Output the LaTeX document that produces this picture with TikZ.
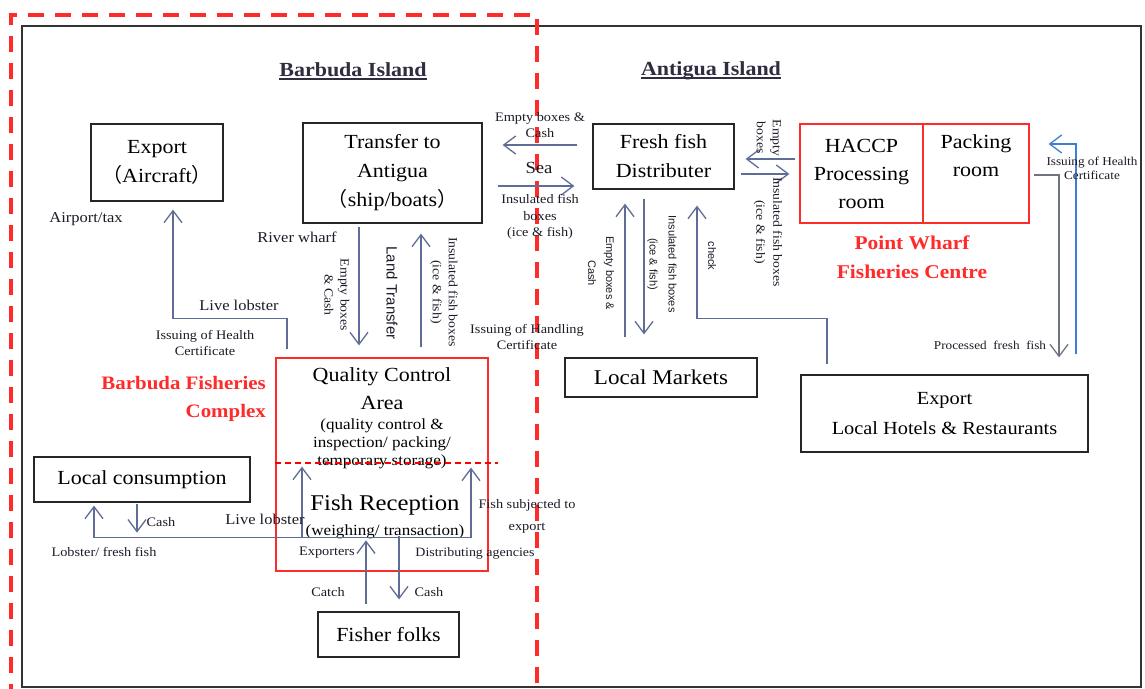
\documentclass[tikz,border=0pt]{standalone}
\usepackage{fontspec}
\setmainfont{Liberation Serif}[FakeStretch=1.1]
\newfontfamily\sansf{Liberation Sans}
\newfontfamily\cjk{Noto Sans CJK SC}
\usetikzlibrary{arrows.meta,calc}
\definecolor{conn}{HTML}{5E6C96}
\definecolor{conng}{HTML}{6E7484}
\definecolor{connb}{HTML}{3F7FD0}
\definecolor{redc}{HTML}{FF2A2A}
\definecolor{txt}{HTML}{1C1C28}
\definecolor{ttl}{HTML}{2E2E40}
\newcommand\myfs[2]{\fontsize{#1}{#2}\selectfont}
\tikzset{
  box/.style={draw=black!85, line width=1.2pt, inner sep=0pt, align=center, text=black, font=\myfs{20}{29}},
  rbox/.style={draw=redc, line width=1.2pt, inner sep=0pt, align=center, text=black, font=\myfs{20}{28}},
  lbl/.style={inner sep=0pt, align=center, text=txt, font=\myfs{13}{16}},
  mid/.style={inner sep=0pt, align=center, text=txt, font=\myfs{15}{18}},
  rot/.style={inner sep=0pt, align=center, text=txt, rotate=-90, font=\myfs{12.5}{16}},
  srot/.style={inner sep=0pt, align=center, text=txt, rotate=-90, font=\sansf\myfs{11}{18}},
  redlbl/.style={inner sep=0pt, text=redc, font=\bfseries\myfs{19}{28}},
  title/.style={inner sep=0pt, text=ttl, font=\bfseries\myfs{20}{24}},
  conn/.style={draw=conn, line width=1.3pt},
  arr/.style={conn, -{Straight Barb[length=12pt,width=18pt,line width=1.3pt]}},
  arrg/.style={arr, draw=conng},
  arrb/.style={arr, draw=connb},
}
\begin{document}
\begin{tikzpicture}[x=1pt,y=-1pt]
\useasboundingbox (0,0) rectangle (1145,688);
\fill[white] (0,0) rectangle (1145,688);
% outer frame
\draw[black!80, line width=1.2pt] (22,26) rectangle (1141,687);
% red dashed region
\draw[redc, line width=4pt, dash pattern=on 16pt off 11pt] (11,700) -- (11,15) -- (537,15) -- (537,700);

% titles
\node[title, anchor=base] (bt) at (353,76) {Barbuda Island};
\draw[ttl, line width=1.8pt] ([yshift=-3pt]bt.base west) -- ([yshift=-3pt]bt.base east);
\node[title, anchor=base] (at) at (711,75) {Antigua Island};
\draw[ttl, line width=1.8pt] ([yshift=-3pt]at.base west) -- ([yshift=-3pt]at.base east);

% boxes
\node[box, minimum width=132pt, minimum height=77pt] (exp) at (157,162.5) {Export\\{\cjk（}Aircraft{\cjk）}};
\node[box, minimum width=179pt, minimum height=100pt] (trans) at (392.5,173) {Transfer to\\Antigua\\{\cjk（}ship/boats{\cjk）}};
\node[box, minimum width=141pt, minimum height=65pt] (fresh) at (663.5,156.5) {Fresh fish\\Distributer};
\node[rbox, minimum width=123pt, minimum height=99pt] (haccp) at (861.5,173.5) {HACCP\\Processing\\room};
\node[rbox, minimum width=106pt, minimum height=99pt] (pack) at (976,173.5) {Packing\\room\\\strut};
\node[box, minimum width=192pt, minimum height=39pt, font=\myfs{21}{25}] (mkts) at (661,377.5) {Local Markets};
\node[box, minimum width=287pt, minimum height=77pt, font=\myfs{18.5}{30}] (hotels) at (944.5,413.5) {Export\\Local Hotels \& Restaurants};
\node[rbox, minimum width=212pt, minimum height=213pt] (qc) at (382,464.5) {};
\node[box, minimum width=216pt, minimum height=45pt] (cons) at (142,479.5) {Local consumption};
\node[box, minimum width=141pt, minimum height=45pt] (fisher) at (388.5,634.5) {Fisher folks};

% quality control area content
\node[inner sep=0pt, align=center, font=\myfs{20}{28}] (qct1) at (382,389) {Quality Control\\Area};
\node[inner sep=0pt, align=center, font=\myfs{15.5}{18}] (qct2) at (382,444) {(quality control \&\\inspection/ packing/\\temporary storage)};
\draw[red, line width=1.2pt, dash pattern=on 6pt off 4pt] (qc.west |- 0,463) -- (498,463);
\node[inner sep=0pt, font=\myfs{22.5}{26}] (fr) at (385,505) {Fish Reception};
\node[inner sep=0pt, font=\myfs{15.5}{18}] (fr2) at (385,532) {(weighing/ transaction)};

% red labels
\node[redlbl, align=right, anchor=east] (bfc) at (266,399) {Barbuda Fisheries\\Complex};
\node[redlbl, align=center, font=\bfseries\myfs{19.5}{29}] (pwf) at (912,257) {Point Wharf\\Fisheries Centre};

% --- connectors, Barbuda side
\draw[arr] ($(qc.north)+(-95,-8)$) |- ($(exp.south)+(16,117)$) -- ($(exp.south)+(16,8)$);
\draw[arr] ($(trans.south)+(-33.5,3)$) -- ($(qc.north)+(-23,-12)$);
\draw[arr] ($(qc.north)+(39,-10)$) -- ($(trans.south)+(28.5,10)$);

\node[mid] (l1) at (86,219) {Airport/tax};
\node[mid] (l2) at (239,305) {Live lobster};
\node[lbl] (l3) at (205,343) {Issuing of Health\\Certificate};
\node[mid] (l4) at (297,237) {River wharf};
\node[rot] (l5) at (337,295) {Empty boxes\\\& Cash};
\node[inner sep=0pt, rotate=-90, text=txt, font=\sansf\myfs{15}{18}] (l6) at (392,293) {Land Transfer};
\node[rot] (l7) at (444,292) {Insulated fish boxes\\(ice \& fish)};
\node[lbl, anchor=west] (l8) at (470,337) {Issuing of Handling\\Certificate};

% --- sea
\draw[arr] ($(fresh.west)+(-15,-11.5)$) -- ($(trans.east)+(20,-28)$);
\draw[arr] ($(trans.east)+(15,13)$) -- ($(fresh.west)+(-18,29.5)$);
\node[lbl] (l9) at (540,125) {Empty boxes \&\\Cash};
\node[inner sep=0pt, text=txt, font=\myfs{17}{20}] (l10) at (539,168) {Sea};
\node[lbl, font=\myfs{13}{16.5}] (l11) at (540,217) {Insulated fish\\boxes\\(ice \& fish)};

% --- fresh fish <-> HACCP
\draw[arr] ($(haccp.west)+(-4,-14.5)$) -- ($(fresh.east)+(11,2.5)$);
\draw[arr] ($(fresh.east)+(6,17.5)$) -- ($(haccp.west)+(-10,0.5)$);
\node[rot] (l12) at (769,138) {Empty\\boxes};
\node[rot, font=\myfs{12.5}{17}] (l13) at (768,232) {Insulated fish boxes\\(ice \& fish)};

% --- fresh fish <-> local markets
\draw[arr] ($(mkts.north)+(-36,-20)$) -- ($(fresh.south)+(-38.5,14)$);
\draw[arr] ($(fresh.south)+(-19.5,9)$) -- ($(mkts.north)+(-17,-23)$);
\node[srot] (l14) at (601,273) {Empty boxes \&\\Cash};
\node[srot, font=\sansf\myfs{11}{19}] (l15) at (662,264) {Insulated fish boxes\\(ice \& fish)};
\draw[arr] ($(hotels.north)+(-117.5,-10)$) |- ($(fresh.south)+(33.5,129)$) -- ($(fresh.south)+(33.5,16)$);
\node[srot] (l16) at (712,256) {check};

% --- packing room <-> hotels
\draw[arrg] ($(pack.east)+(4,1.5)$) -| ($(hotels.north)+(114.5,-17)$);
\draw[arrb] ($(hotels.north)+(131.5,-20)$) |- ($(pack.east)+(19,-29.5)$);
\node[lbl, font=\myfs{12}{14}] (l17) at (1092,168) {Issuing of Health\\Certificate};
\node[lbl, font=\myfs{12}{14}] (l18) at (990,345) {Processed\ \ fresh\ \ fish};

% --- bottom group
\draw[conn] ($(cons.south)+(-48,35)$) -- ($(qc.south)+(89,-34)$);
\draw[arr] ($(cons.south)+(-48,35)$) -- ($(cons.south)+(-48,3)$);
\draw[arr] ($(cons.south)+(-5,1)$) -- ($(cons.south)+(-5,30)$);
\draw[arr] ($(qc.south)+(-80,-34)$) -- ($(qc.south)+(-80,-105)$);
\draw[arr] ($(qc.south)+(89,-34)$) -- ($(qc.south)+(89,-104)$);
\draw[arr] ($(fisher.north)+(-22.5,-7)$) -- ($(fisher.north)+(-22.5,-71)$);
\draw[arr] ($(fisher.north)+(10.5,-75)$) -- ($(fisher.north)+(10.5,-12)$);

\node[lbl] (l19) at (161,522) {Cash};
\node[lbl] (l20) at (104,552) {Lobster/ fresh fish};
\node[mid] (l21) at (265,519) {Live lobster};
\node[lbl] (l22) at (327,553) {Exporters};
\node[lbl, font=\myfs{12.7}{16}] (l23) at (475,553) {Distributing agencies};
\node[lbl, font=\myfs{13}{22}] (l24) at (527,516) {Fish subjected to\\export};
\node[lbl] (l25) at (328,592) {Catch};
\node[lbl] (l26) at (429,592) {Cash};
\end{tikzpicture}
\end{document}
